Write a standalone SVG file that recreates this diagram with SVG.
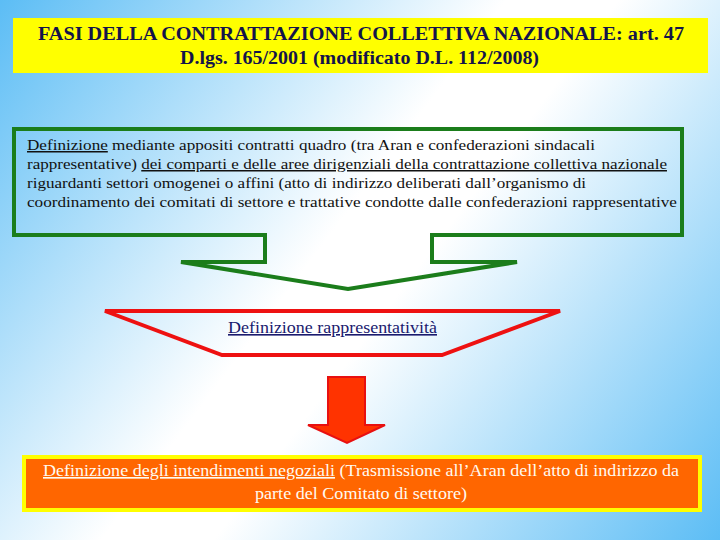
<svg xmlns="http://www.w3.org/2000/svg" width="720" height="540" viewBox="0 0 720 540">
<defs>
<linearGradient id="bg" gradientUnits="userSpaceOnUse" x1="0" y1="0" x2="720" y2="540">
<stop offset="0" stop-color="#5cbdf5"/>
<stop offset="0.45" stop-color="#ffffff"/>
<stop offset="0.55" stop-color="#ffffff"/>
<stop offset="1" stop-color="#5cbdf5"/>
</linearGradient>
<style>
.title{font-family:"Liberation Serif","Times New Roman",serif;font-weight:bold;font-size:18px;fill:#14144a}
.body{font-family:"Liberation Serif","Times New Roman",serif;font-size:15px;fill:#111111}
.red{font-family:"Liberation Serif","Times New Roman",serif;font-size:16px;fill:#1a1a6e}
.orange{font-family:"Liberation Serif","Times New Roman",serif;font-size:16.5px;fill:#fffaf0}
.u{text-decoration:underline}
</style>
</defs>
<rect x="0" y="0" width="720" height="540" fill="url(#bg)"/>
<g id="title">
<rect x="13" y="18" width="695" height="55" fill="#ffff00"/>
<text class="title" x="38" y="40" textLength="646" lengthAdjust="spacingAndGlyphs">FASI DELLA CONTRATTAZIONE COLLETTIVA NAZIONALE: art. 47</text>
<text class="title" x="180" y="64" textLength="359" lengthAdjust="spacingAndGlyphs">D.lgs. 165/2001 (modificato D.L. 112/2008)</text>
</g>
<g id="definizione">
<polygon points="14,129 682,129 682,235 432,235 432,262 517,262 348,289 181,262 265,262 265,235 14,235" fill="none" stroke="#1b7d1b" stroke-width="4" stroke-linejoin="miter"/>
<text class="body" x="27" y="150" textLength="568" lengthAdjust="spacingAndGlyphs"><tspan class="u">Definizione</tspan> mediante appositi contratti quadro (tra Aran e confederazioni sindacali</text>
<text class="body" x="27" y="169" textLength="640" lengthAdjust="spacingAndGlyphs">rappresentative) <tspan class="u">dei comparti e delle aree dirigenziali della contrattazione collettiva nazionale</tspan></text>
<text class="body" x="27" y="188" textLength="559" lengthAdjust="spacingAndGlyphs">riguardanti settori omogenei o affini (atto di indirizzo deliberati dall’organismo di</text>
<text class="body" x="27" y="207" textLength="650" lengthAdjust="spacingAndGlyphs">coordinamento dei comitati di settore e trattative condotte dalle confederazioni rappresentative</text>
</g>
<g id="rappresentativita">
<polygon points="105,311 560,311 442,355 222,355" fill="none" stroke="#ee1111" stroke-width="4"/>
<text class="red u" x="228" y="333" textLength="209" lengthAdjust="spacingAndGlyphs">Definizione rappresentatività</text>
</g>
<g id="connectors">
<polygon points="328,377 365,377 365,425 385,425 347,443 308,425 328,425" fill="#ff3300" stroke="#e81010" stroke-width="2" stroke-linejoin="miter"/>
</g>
<g id="intendimenti">
<rect x="24" y="457" width="676" height="53" fill="#ff6600" stroke="#ffff00" stroke-width="4"/>
<text class="orange" x="43" y="476" textLength="636" lengthAdjust="spacingAndGlyphs"><tspan class="u">Definizione degli intendimenti negoziali</tspan> (Trasmissione all’Aran dell’atto di indirizzo da</text>
<text class="orange" x="255" y="499" textLength="212" lengthAdjust="spacingAndGlyphs">parte del Comitato di settore)</text>
</g>
</svg>
